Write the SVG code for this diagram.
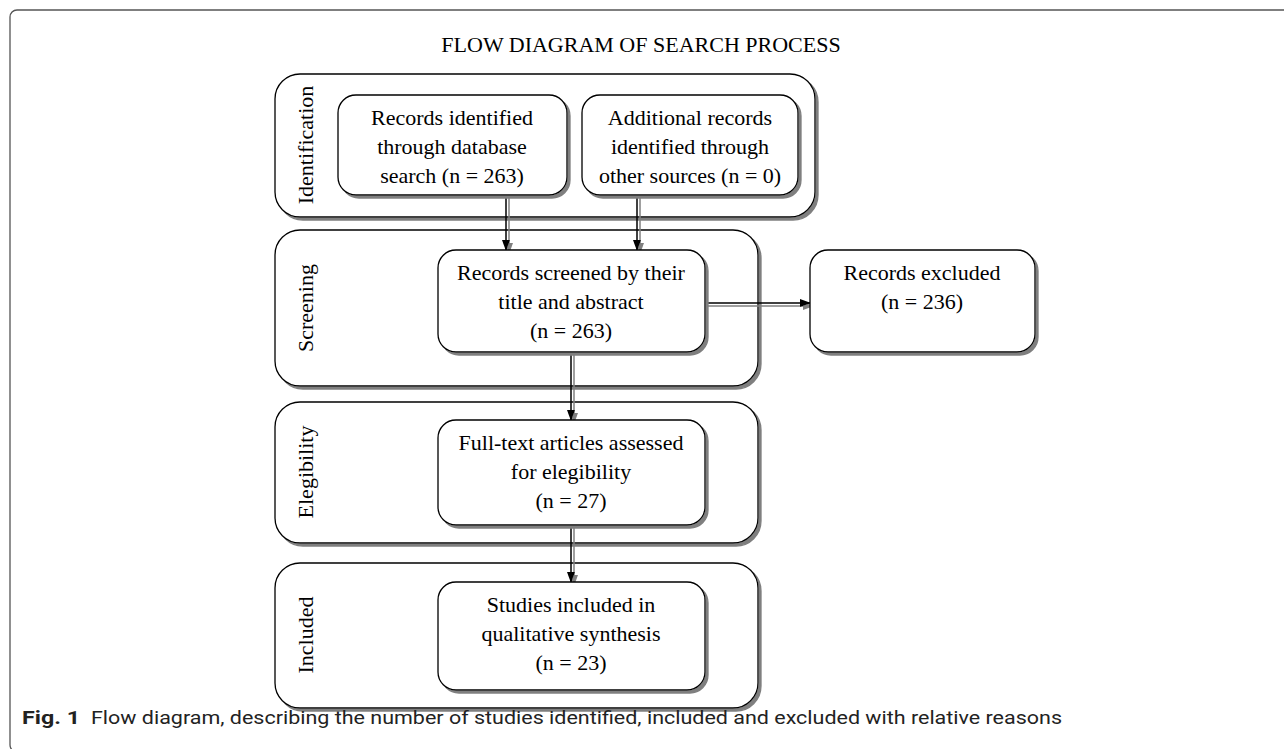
<svg xmlns="http://www.w3.org/2000/svg" width="1284" height="749" viewBox="0 0 1284 749">
<style>
.frame{fill:none;stroke:#555;stroke-width:1.3}
.stage{fill:#fff;stroke:#000;stroke-width:1.3}
.box{fill:#fff;stroke:#000;stroke-width:1.3}
.t{font-family:"Liberation Serif","Times New Roman",serif;font-size:22px;fill:#000;text-anchor:middle}
.title{font-family:"Liberation Serif","Times New Roman",serif;font-size:22px;fill:#000;text-anchor:middle}
.cap{font-family:Roboto,"Liberation Sans",sans-serif;font-size:19px;fill:#222}
.conn{stroke:#000;stroke-width:1.5;fill:none}
</style>
<defs>
<filter id="sh" filterUnits="userSpaceOnUse" x="0" y="0" width="1284" height="749">
<feOffset in="SourceAlpha" dx="3" dy="3" result="o"/>
<feFlood flood-color="#7f7f7f"/>
<feComposite in2="o" operator="in" result="s"/>
<feMerge><feMergeNode in="s"/><feMergeNode in="SourceGraphic"/></feMerge>
</filter>
<marker id="ah" markerWidth="11" markerHeight="10" refX="10" refY="5" orient="auto" markerUnits="userSpaceOnUse">
<path d="M0,1 L11,5 L0,9 Z" fill="#000"/>
</marker>
</defs>
<rect width="1284" height="749" fill="#fff"/>
<rect class="frame" x="10" y="10" width="1300" height="742" rx="7"/>
<text class="title" x="641" y="52">FLOW DIAGRAM OF SEARCH PROCESS</text>

<g id="stage-identification">
<rect class="stage" x="275" y="74" width="540" height="143" rx="25" filter="url(#sh)"/>
<text class="t" transform="translate(313,145) rotate(-90)">Identification</text>
</g>
<g id="stage-screening">
<rect class="stage" x="275" y="230" width="483" height="156" rx="25" filter="url(#sh)"/>
<text class="t" transform="translate(313,308) rotate(-90)">Screening</text>
</g>
<g id="stage-elegibility">
<rect class="stage" x="275" y="402" width="483" height="141" rx="25" filter="url(#sh)"/>
<text class="t" transform="translate(313,472) rotate(-90)">Elegibility</text>
</g>
<g id="stage-included">
<rect class="stage" x="275" y="563" width="483" height="145" rx="25" filter="url(#sh)"/>
<text class="t" transform="translate(313,635) rotate(-90)">Included</text>
</g>

<g id="connectors" filter="url(#sh)">
<line class="conn" x1="506" y1="195" x2="506" y2="250" marker-end="url(#ah)"/>
<line class="conn" x1="637" y1="195" x2="637" y2="250" marker-end="url(#ah)"/>
<line class="conn" x1="705" y1="303" x2="810" y2="303" marker-end="url(#ah)"/>
<line class="conn" x1="571" y1="352" x2="571" y2="420" marker-end="url(#ah)"/>
<line class="conn" x1="571" y1="525" x2="571" y2="582" marker-end="url(#ah)"/>
</g>

<g id="records-identified">
<rect class="box" x="338" y="95" width="229" height="100" rx="18" filter="url(#sh)"/>
<text class="t" x="452" y="125">Records identified</text>
<text class="t" x="452" y="154">through database</text>
<text class="t" x="452" y="183">search (n = 263)</text>
</g>
<g id="additional-records">
<rect class="box" x="582" y="95" width="216" height="100" rx="18" filter="url(#sh)"/>
<text class="t" x="690" y="125">Additional records</text>
<text class="t" x="690" y="154">identified through</text>
<text class="t" x="690" y="183">other sources (n = 0)</text>
</g>
<g id="records-screened">
<rect class="box" x="438" y="250" width="267" height="102" rx="18" filter="url(#sh)"/>
<text class="t" x="571" y="280">Records screened by their</text>
<text class="t" x="571" y="309">title and abstract</text>
<text class="t" x="571" y="338">(n = 263)</text>
</g>
<g id="records-excluded">
<rect class="box" x="810" y="250" width="225" height="102" rx="18" filter="url(#sh)"/>
<text class="t" x="922" y="280">Records excluded</text>
<text class="t" x="922" y="309">(n = 236)</text>
</g>
<g id="full-text">
<rect class="box" x="438" y="420" width="267" height="105" rx="18" filter="url(#sh)"/>
<text class="t" x="571" y="450">Full-text articles assessed</text>
<text class="t" x="571" y="479">for elegibility</text>
<text class="t" x="571" y="508">(n = 27)</text>
</g>
<g id="studies-included">
<rect class="box" x="438" y="582" width="267" height="108" rx="18" filter="url(#sh)"/>
<text class="t" x="571" y="612">Studies included in</text>
<text class="t" x="571" y="641">qualitative synthesis</text>
<text class="t" x="571" y="670">(n = 23)</text>
</g>

<text class="cap" x="22" y="724" font-weight="bold" textLength="58" lengthAdjust="spacingAndGlyphs">Fig. 1</text>
<text class="cap" x="91" y="724" textLength="971" lengthAdjust="spacingAndGlyphs">Flow diagram, describing the number of studies identified, included and excluded with relative reasons</text>
</svg>
